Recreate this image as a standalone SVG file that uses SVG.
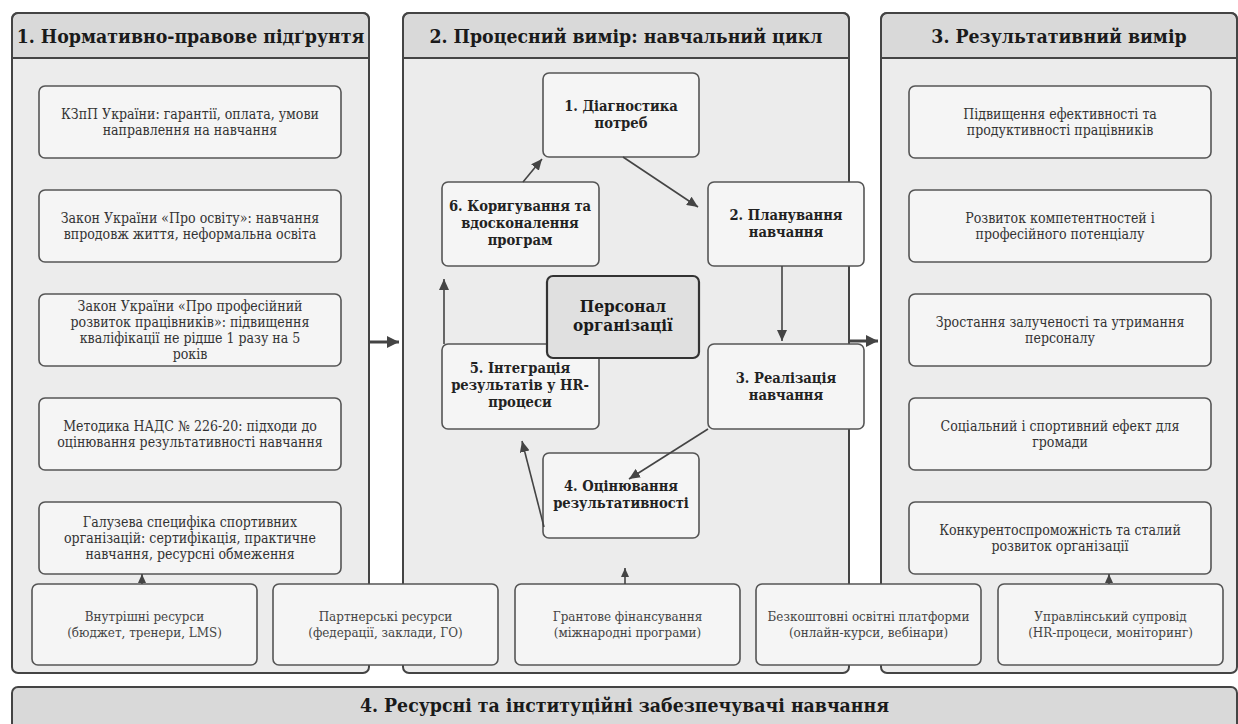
<svg xmlns="http://www.w3.org/2000/svg" width="1238" height="724" viewBox="0 0 1238 724">
<style>
text{font-family:"DejaVu Serif Condensed","DejaVu Serif",serif;font-stretch:condensed;text-anchor:middle}
.panel{fill:#ececec;stroke:none}
.pframe{fill:none;stroke:#444;stroke-width:2}
.phead{fill:#d9d9d9;stroke:#444;stroke-width:2}
.ht{font-size:19.3px;font-weight:bold;fill:#1a1a1a}
.box{fill:#f5f5f5;stroke:#555;stroke-width:1.6}
.bt{font-size:14px;fill:#333}
.ct{font-size:14.6px;font-weight:bold;fill:#222}
.core{fill:#e0e0e0;stroke:#333;stroke-width:2.2}
.coret{font-size:17px;font-weight:bold;fill:#1a1a1a}
.rt{font-size:13.3px;fill:#444}
.ln{fill:none;stroke:#444;stroke-width:1.6}
.big{fill:none;stroke:#444;stroke-width:3}
</style>
<defs>
<marker id="ah" markerUnits="userSpaceOnUse" markerWidth="12" markerHeight="10" refX="11" refY="5" orient="auto"><path d="M0,0 L11,5 L0,10 z" fill="#444"/></marker>
<marker id="as" markerUnits="userSpaceOnUse" markerWidth="10" markerHeight="8" refX="9" refY="4" orient="auto"><path d="M0,0 L9,4 L0,8 z" fill="#444"/></marker>
<marker id="ab" markerUnits="userSpaceOnUse" markerWidth="13" markerHeight="12" refX="12" refY="6" orient="auto"><path d="M0,0 L12,6 L0,12 z" fill="#444"/></marker>
</defs>
<rect width="1238" height="724" fill="#ffffff"/>

<g id="panel1">
<rect class="panel" x="12" y="13" width="357" height="660" rx="6"/>
<path class="phead" d="M12,58 V19 A6,6 0 0 1 18,13 H363 A6,6 0 0 1 369,19 V58 Z"/>
<rect class="pframe" x="12" y="13" width="357" height="660" rx="6"/>
<text class="ht" x="190.5" y="43">1. Нормативно-правове підґрунтя</text>
</g>
<g id="panel2">
<rect class="panel" x="403" y="13" width="446" height="660" rx="6"/>
<path class="phead" d="M403,58 V19 A6,6 0 0 1 409,13 H843 A6,6 0 0 1 849,19 V58 Z"/>
<rect class="pframe" x="403" y="13" width="446" height="660" rx="6"/>
<text class="ht" x="626" y="43">2. Процесний вимір: навчальний цикл</text>
</g>
<g id="panel3">
<rect class="panel" x="881" y="13" width="356" height="660" rx="6"/>
<path class="phead" d="M881,58 V19 A6,6 0 0 1 887,13 H1231 A6,6 0 0 1 1237,19 V58 Z"/>
<rect class="pframe" x="881" y="13" width="356" height="660" rx="6"/>
<text class="ht" x="1059" y="43">3. Результативний вимір</text>
</g>
<g id="panel4">
<rect class="phead" x="12" y="687" width="1225" height="50" rx="6"/>
<text class="ht" x="624.5" y="712">4. Ресурсні та інституційні забезпечувачі навчання</text>
</g>

<g id="n-kzpp"><rect class="box" x="39" y="86" width="302" height="72" rx="6"/>
<text class="bt" x="190" y="119">КЗпП України: гарантії, оплата, умови</text><text class="bt" x="190" y="135">направлення на навчання</text></g>
<g id="n-osvita"><rect class="box" x="39" y="190" width="302" height="72" rx="6"/>
<text class="bt" x="190" y="223">Закон України «Про освіту»: навчання</text><text class="bt" x="190" y="239">впродовж життя, неформальна освіта</text></g>
<g id="n-profrozv"><rect class="box" x="39" y="294" width="302" height="72" rx="6"/>
<text class="bt" x="190" y="311">Закон України «Про професійний</text><text class="bt" x="190" y="327">розвиток працівників»: підвищення</text><text class="bt" x="190" y="343">кваліфікації не рідше 1 разу на 5</text><text class="bt" x="190" y="359">років</text></g>
<g id="n-nads"><rect class="box" x="39" y="398" width="302" height="72" rx="6"/>
<text class="bt" x="190" y="431">Методика НАДС № 226-20: підходи до</text><text class="bt" x="190" y="447">оцінювання результативності навчання</text></g>
<g id="n-galuz"><rect class="box" x="39" y="502" width="302" height="72" rx="6"/>
<text class="bt" x="190" y="527">Галузева специфіка спортивних</text><text class="bt" x="190" y="543">організацій: сертифікація, практичне</text><text class="bt" x="190" y="559">навчання, ресурсні обмеження</text></g>

<g id="r-eff"><rect class="box" x="909" y="86" width="302" height="72" rx="6"/>
<text class="bt" x="1060" y="119">Підвищення ефективності та</text><text class="bt" x="1060" y="135">продуктивності працівників</text></g>
<g id="r-komp"><rect class="box" x="909" y="190" width="302" height="72" rx="6"/>
<text class="bt" x="1060" y="223">Розвиток компетентностей і</text><text class="bt" x="1060" y="239">професійного потенціалу</text></g>
<g id="r-zal"><rect class="box" x="909" y="294" width="302" height="72" rx="6"/>
<text class="bt" x="1060" y="327">Зростання залученості та утримання</text><text class="bt" x="1060" y="343">персоналу</text></g>
<g id="r-soc"><rect class="box" x="909" y="398" width="302" height="72" rx="6"/>
<text class="bt" x="1060" y="431">Соціальний і спортивний ефект для</text><text class="bt" x="1060" y="447">громади</text></g>
<g id="r-konk"><rect class="box" x="909" y="502" width="302" height="72" rx="6"/>
<text class="bt" x="1060" y="535">Конкурентоспроможність та сталий</text><text class="bt" x="1060" y="551">розвиток організації</text></g>

<g id="c1"><rect class="box" x="543" y="73" width="156" height="84" rx="6"/>
<text class="ct" x="621" y="111">1. Діагностика</text><text class="ct" x="621" y="128">потреб</text></g>
<g id="c2"><rect class="box" x="708" y="182" width="156" height="84" rx="6"/>
<text class="ct" x="786" y="220">2. Планування</text><text class="ct" x="786" y="237">навчання</text></g>
<g id="c3"><rect class="box" x="708" y="344" width="156" height="85" rx="6"/>
<text class="ct" x="786" y="383">3. Реалізація</text><text class="ct" x="786" y="400">навчання</text></g>
<g id="c4"><rect class="box" x="543" y="453" width="156" height="85" rx="6"/>
<text class="ct" x="621" y="491">4. Оцінювання</text><text class="ct" x="621" y="508">результативності</text></g>
<g id="c5"><rect class="box" x="442" y="344" width="157" height="85" rx="6"/>
<text class="ct" x="520" y="373">5. Інтеграція</text><text class="ct" x="520" y="390">результатів у HR-</text><text class="ct" x="520" y="407">процеси</text></g>
<g id="c6"><rect class="box" x="442" y="182" width="157" height="84" rx="6"/>
<text class="ct" x="520" y="211">6. Коригування та</text><text class="ct" x="520" y="228">вдосконалення</text><text class="ct" x="520" y="245">програм</text></g>
<g id="core"><rect class="core" x="547" y="276" width="152" height="82" rx="6"/>
<text class="coret" x="623" y="312">Персонал</text><text class="coret" x="623" y="331">організації</text></g>

<g id="res1"><rect class="box" x="32" y="584" width="225" height="81" rx="6"/>
<text class="rt" x="144.5" y="621">Внутрішні ресурси</text><text class="rt" x="144.5" y="637">(бюджет, тренери, LMS)</text></g>
<g id="res2"><rect class="box" x="273" y="584" width="225" height="81" rx="6"/>
<text class="rt" x="385.5" y="621">Партнерські ресурси</text><text class="rt" x="385.5" y="637">(федерації, заклади, ГО)</text></g>
<g id="res3"><rect class="box" x="515" y="584" width="225" height="81" rx="6"/>
<text class="rt" x="627.5" y="621">Грантове фінансування</text><text class="rt" x="627.5" y="637">(міжнародні програми)</text></g>
<g id="res4"><rect class="box" x="756" y="584" width="225" height="81" rx="6"/>
<text class="rt" x="868.5" y="621">Безкоштовні освітні платформи</text><text class="rt" x="868.5" y="637">(онлайн-курси, вебінари)</text></g>
<g id="res5"><rect class="box" x="998" y="584" width="225" height="81" rx="6"/>
<text class="rt" x="1110.5" y="621">Управлінський супровід</text><text class="rt" x="1110.5" y="637">(HR-процеси, моніторинг)</text></g>

<g id="connectors">
<path class="big" d="M369,342 H399" marker-end="url(#ab)"/>
<path class="big" d="M849,341 H878" marker-end="url(#ab)"/>
<path class="ln" d="M623,157 L698,207" marker-end="url(#ah)"/>
<path class="ln" d="M782,266 V341" marker-end="url(#ah)"/>
<path class="ln" d="M708,429 L629,479" marker-end="url(#ah)"/>
<path class="ln" d="M544,527 L522,441" marker-end="url(#ah)"/>
<path class="ln" d="M444,344 V279" marker-end="url(#ah)"/>
<path class="ln" d="M523,182 L542,159" marker-end="url(#ah)"/>
<path class="ln" d="M142,584 V574" marker-end="url(#as)"/>
<path class="ln" d="M625,584 V568" marker-end="url(#as)"/>
<path class="ln" d="M1109,584 V574" marker-end="url(#as)"/>
</g>
</svg>
